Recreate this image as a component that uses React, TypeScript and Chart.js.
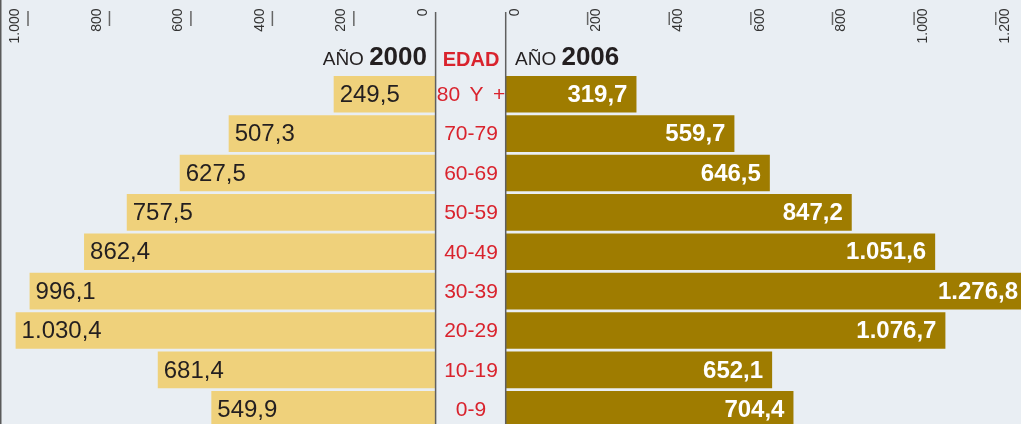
import React, { useEffect, useRef } from "react";
import { Chart, registerables } from "chart.js";

Chart.register(...registerables);

const ageGroups = ["80 Y +", "70-79", "60-69", "50-59", "40-49", "30-39", "20-29", "10-19", "0-9"];
const year2000 = [249.5, 507.3, 627.5, 757.5, 862.4, 996.1, 1030.4, 681.4, 549.9];
const year2006 = [319.7, 559.7, 646.5, 847.2, 1051.6, 1276.8, 1076.7, 652.1, 704.4];
const leftTicks = [0, 200, 400, 600, 800, 1000];
const rightTicks = [0, 200, 400, 600, 800, 1000, 1200];

const BG = "#E9EEF3";
const LEFT_COLOR = "#EFD17B";
const RIGHT_COLOR = "#9F7C00";
const RED = "#D9232D";
const FONT = "'Liberation Sans', Arial, Helvetica, sans-serif";

function fmt(v: number, decimals: number): string {
  const fixed = v.toFixed(decimals);
  const [intPart, dec] = fixed.split(".");
  const grouped = intPart.replace(/\B(?=(\d{3})+(?!\d))/g, ".");
  return dec ? grouped + "," + dec : grouped;
}

const overlayPlugin = {
  id: "pyramidOverlay",
  afterDatasetsDraw(chart: any) {
    const ctx = chart.ctx as CanvasRenderingContext2D;
    const xL = chart.scales.xL;
    const xR = chart.scales.xR;
    const y = chart.scales.y;
    const H = chart.height;
    ctx.save();

    // left border
    ctx.fillStyle = "#5a5a5a";
    ctx.fillRect(0, 0, 1.5, H);

    // axis lines at zero
    ctx.strokeStyle = "#5f5f5f";
    ctx.lineWidth = 1.5;
    const x0L = xL.getPixelForValue(0);
    const x0R = xR.getPixelForValue(0);
    ctx.beginPath();
    ctx.moveTo(x0L + 0.3, 12);
    ctx.lineTo(x0L + 0.3, H);
    ctx.moveTo(x0R - 0.3, 12);
    ctx.lineTo(x0R - 0.3, H);
    ctx.stroke();

    // tick marks and labels
    ctx.lineWidth = 1.5;
    ctx.strokeStyle = "#666";
    ctx.fillStyle = "#333";
    ctx.font = `14px ${FONT}`;
    ctx.textAlign = "right";
    ctx.textBaseline = "middle";
    leftTicks.forEach((t) => {
      const px = xL.getPixelForValue(t);
      if (t !== 0) {
        ctx.beginPath();
        ctx.moveTo(px, 11);
        ctx.lineTo(px, 26);
        ctx.stroke();
      }
      ctx.save();
      ctx.translate(px - 12.5, 8.5);
      ctx.rotate(-Math.PI / 2);
      ctx.fillText(fmt(t, 0), 0, 0);
      ctx.restore();
    });
    rightTicks.forEach((t) => {
      const px = xR.getPixelForValue(t);
      if (t !== 0) {
        ctx.beginPath();
        ctx.moveTo(px, 12);
        ctx.lineTo(px, 25);
        ctx.stroke();
      }
      ctx.save();
      ctx.translate(px + 9, 8.5);
      ctx.rotate(-Math.PI / 2);
      ctx.fillText(fmt(t, 0), 0, 0);
      ctx.restore();
    });

    // headers
    ctx.textBaseline = "alphabetic";
    const headerY = 65;
    ctx.fillStyle = "#231f20";
    ctx.font = `bold 26px ${FONT}`;
    const w2000 = ctx.measureText("2000").width;
    ctx.textAlign = "right";
    ctx.fillText("2000", 427, headerY);
    ctx.font = `19px ${FONT}`;
    ctx.fillText("AÑO ", 427 - w2000, headerY);

    ctx.textAlign = "left";
    ctx.font = `19px ${FONT}`;
    const wAno = ctx.measureText("AÑO ").width;
    ctx.fillText("AÑO ", 515, headerY);
    ctx.font = `bold 26px ${FONT}`;
    ctx.fillText("2006", 515 + wAno, headerY);

    ctx.fillStyle = RED;
    ctx.textAlign = "center";
    ctx.font = `bold 20px ${FONT}`;
    ctx.fillText("EDAD", 471, 65.5);

    // age labels
    ctx.font = `21px ${FONT}`;
    ctx.textBaseline = "middle";
    ageGroups.forEach((g, i) => {
      const py = y.getPixelForTick(i);
      (ctx as any).wordSpacing = g.indexOf(" ") >= 0 ? "3.5px" : "0px";
      ctx.fillText(g, 471, py + 1);
    });
    (ctx as any).wordSpacing = "0px";

    // value labels
    const metaL = chart.getDatasetMeta(0);
    const metaR = chart.getDatasetMeta(1);
    ctx.font = `24px ${FONT}`;
    ctx.fillStyle = "#231f20";
    ctx.textAlign = "left";
    metaL.data.forEach((bar: any, i: number) => {
      ctx.fillText(fmt(year2000[i], 1), bar.x + 6, bar.y + 1);
    });
    ctx.font = `bold 24px ${FONT}`;
    ctx.fillStyle = "#ffffff";
    ctx.textAlign = "right";
    metaR.data.forEach((bar: any, i: number) => {
      ctx.fillText(fmt(year2006[i], 1), bar.x - 9, bar.y + 1);
    });

    ctx.restore();
  },
};

export default function App() {
  const canvasRef = useRef<HTMLCanvasElement | null>(null);

  useEffect(() => {
    const canvas = canvasRef.current;
    if (!canvas) return;
    const width = 1021;
    const kL = 0.4073;
    const kR = 0.4081;
    const zeroL = 435.3;
    const zeroR = 506;
    const maxL = zeroL / kL;
    const minL = maxL - width / kL;
    const minR = -zeroR / kR;
    const maxR = minR + width / kR;

    const chart = new Chart(canvas, {
      type: "bar",
      data: {
        labels: ageGroups,
        datasets: [
          {
            label: "Año 2000",
            data: year2000,
            backgroundColor: LEFT_COLOR,
            xAxisID: "xL",
            yAxisID: "y",
            grouped: false,
            categoryPercentage: 1,
            barPercentage: 0.93,
            borderWidth: 0,
          } as any,
          {
            label: "Año 2006",
            data: year2006,
            backgroundColor: RIGHT_COLOR,
            xAxisID: "xR",
            yAxisID: "y",
            grouped: false,
            categoryPercentage: 1,
            barPercentage: 0.93,
            borderWidth: 0,
          } as any,
        ],
      },
      options: {
        indexAxis: "y",
        responsive: false,
        animation: false,
        devicePixelRatio: 1,
        layout: { padding: { top: 74.5, bottom: 0, left: 0, right: 0 } },
        plugins: {
          legend: { display: false },
          tooltip: { enabled: false },
          title: { display: false },
        },
        scales: {
          xL: {
            type: "linear",
            position: "top",
            reverse: true,
            min: minL,
            max: maxL,
            display: false,
          },
          xR: {
            type: "linear",
            position: "bottom",
            min: minR,
            max: maxR,
            display: false,
          },
          y: {
            type: "category",
            display: false,
            offset: true,
          },
        },
      },
      plugins: [overlayPlugin],
    });
    return () => chart.destroy();
  }, []);

  return (
    <div
      style={{
        position: "fixed",
        left: 0,
        top: 0,
        width: 1021,
        height: 424,
        overflow: "hidden",
        background: BG,
      }}
    >
      <canvas ref={canvasRef} width={1021} height={429} style={{ display: "block" }} />
    </div>
  );
}
